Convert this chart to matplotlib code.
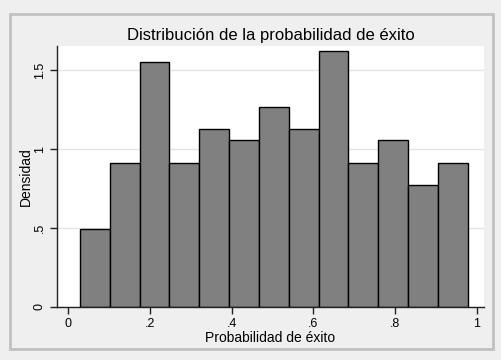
import matplotlib.pyplot as plt
from matplotlib.patches import Rectangle

# ------------------------------------------------------------------
# Histogram data: 13 equal bins, counts
# ------------------------------------------------------------------
bin_start = 0.0293
bin_width = 0.0729
counts = [7, 13, 22, 13, 16, 15, 18, 16, 23, 13, 15, 11, 13]
edges = [bin_start + i * bin_width for i in range(len(counts) + 1)]
centers = [(a + b) / 2 for a, b in zip(edges[:-1], edges[1:])]

x_ticks = [0, 0.2, 0.4, 0.6, 0.8, 1]
x_labels = ["0", ".2", ".4", ".6", ".8", "1"]
y_ticks = [0, 0.5, 1, 1.5]
y_labels = ["0", ".5", "1", "1.5"]

plt.rcParams["font.family"] = ["Liberation Sans", "DejaVu Sans"]

W, H = 502, 360
fig = plt.figure(figsize=(W / 100, H / 100), dpi=100)
fig.patch.set_facecolor("#efefef")
fig.add_artist(Rectangle((9.5 / W, 1 - 348.5 / H), 484 / W, 335 / H,
                         transform=fig.transFigure, fill=False,
                         edgecolor="#c0c0c0", lw=2))

ax = fig.add_axes([57 / W, 1 - 307 / H, (484 - 57) / W, (307 - 46) / H])
ax.set_facecolor("white")

ax.hist(centers, bins=edges, weights=counts, density=True,
        facecolor="#808080", edgecolor="black", linewidth=1, zorder=2)

# ------------------------------------------------------------------
# Axes cosmetics (Stata look)
# ------------------------------------------------------------------
ax.set_xlim(-0.0269, 1.017)
ax.set_ylim(0, 1.652)
ax.set_xticks(x_ticks)
ax.set_xticklabels(x_labels)
ax.set_yticks(y_ticks)
ax.set_yticklabels(y_labels, rotation=90, va="center")
ax.grid(axis="y", color="#e4e4e4", lw=1, zorder=0)
ax.tick_params(labelsize=9, length=5, width=1, color="#222222", pad=3)

for s in ["top", "right"]:
    ax.spines[s].set_visible(False)
for s in ["left", "bottom"]:
    ax.spines[s].set_color("#222222")
    ax.spines[s].set_linewidth(1)

ax.set_xlabel("Probabilidad de éxito", fontsize=10, labelpad=1)
ax.set_ylabel("Densidad", fontsize=10, labelpad=1)
ax.set_title("Distribución de la probabilidad de éxito", fontsize=12, pad=4)

plt.savefig("out.png", dpi=100, facecolor=fig.get_facecolor())
